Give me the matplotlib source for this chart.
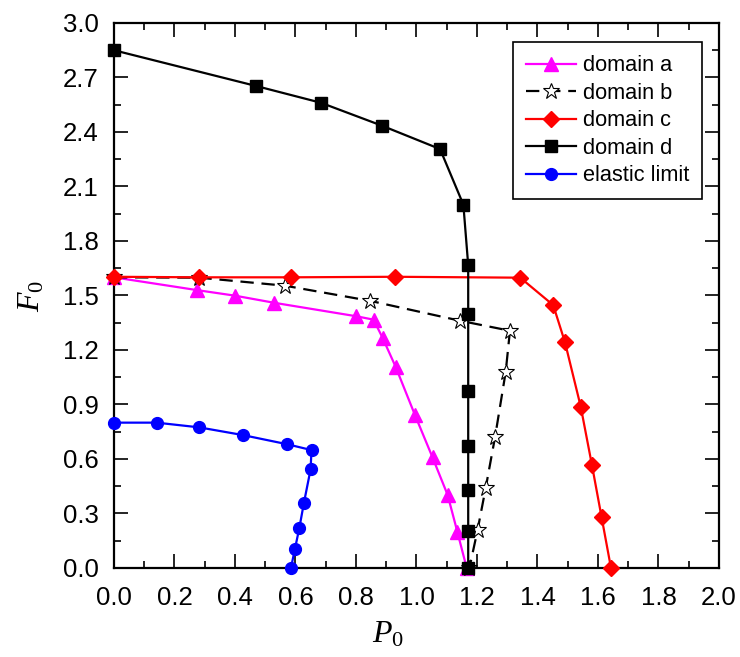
import matplotlib
matplotlib.use("Agg")
import matplotlib.pyplot as plt
from matplotlib.ticker import MultipleLocator, FormatStrFormatter

plt.rcParams['font.family'] = ['Liberation Sans', 'DejaVu Sans']
plt.rcParams['mathtext.fontset'] = 'custom'
plt.rcParams['mathtext.rm'] = 'Liberation Serif'
plt.rcParams['mathtext.it'] = 'Liberation Serif:italic'

# domain a
a_p = [0.0, 0.273, 0.400, 0.529, 0.800, 0.858, 0.888, 0.931, 0.995, 1.053, 1.103, 1.135, 1.166]
a_f = [1.600, 1.530, 1.499, 1.460, 1.386, 1.367, 1.267, 1.108, 0.842, 0.609, 0.402, 0.200, 0.0]

# domain b
b_p = [0.0, 0.282, 0.565, 0.848, 1.144, 1.309, 1.295, 1.260, 1.229, 1.202, 1.175]
b_f = [1.600, 1.598, 1.554, 1.470, 1.361, 1.306, 1.080, 0.723, 0.442, 0.209, 0.0]

# domain c
c_p = [0.0, 0.282, 0.585, 0.930, 1.343, 1.452, 1.491, 1.543, 1.580, 1.612, 1.643]
c_f = [1.603, 1.600, 1.600, 1.603, 1.598, 1.447, 1.242, 0.888, 0.567, 0.279, 0.0]

# domain d
d_p = [0.0, 0.468, 0.684, 0.887, 1.078, 1.155, 1.171, 1.171, 1.171, 1.171, 1.171, 1.171, 1.171]
d_f = [2.850, 2.654, 2.561, 2.434, 2.306, 2.000, 1.667, 1.396, 0.976, 0.673, 0.429, 0.205, 0.0]

# elastic limit
e_p = [0.0, 0.141, 0.282, 0.425, 0.573, 0.653, 0.650, 0.628, 0.613, 0.598, 0.585]
e_f = [0.800, 0.800, 0.774, 0.732, 0.681, 0.649, 0.543, 0.359, 0.222, 0.103, 0.0]

fig = plt.figure(figsize=(7.4, 6.57), dpi=100)
ax = fig.add_axes([0.154, 0.1355, 0.8176, 0.8295])

lw = 1.6
ax.plot(a_p, a_f, color='#ff00ff', lw=lw, marker='^', ms=10, label='domain a', clip_on=False, zorder=3)
ax.plot(b_p, b_f, color='black', lw=lw, ls=(0, (6, 3.5)), marker='*', ms=12,
        mfc='white', mec='black', mew=0.8, label='domain b', clip_on=False, zorder=3)
ax.plot(c_p, c_f, color='#ff0000', lw=lw, marker='D', ms=8.5, label='domain c', clip_on=False, zorder=4)
ax.plot(d_p, d_f, color='black', lw=lw, marker='s', ms=8, label='domain d', clip_on=False, zorder=5)
ax.plot(e_p, e_f, color='#0000ff', lw=lw, marker='o', ms=8.5, label='elastic limit', clip_on=False, zorder=5)

ax.set_xlim(0, 2.0)
ax.set_ylim(0, 3.0)
ax.xaxis.set_major_locator(MultipleLocator(0.2))
ax.xaxis.set_minor_locator(MultipleLocator(0.1))
ax.yaxis.set_major_locator(MultipleLocator(0.3))
ax.yaxis.set_minor_locator(MultipleLocator(0.15))
ax.xaxis.set_major_formatter(FormatStrFormatter('%.1f'))
ax.yaxis.set_major_formatter(FormatStrFormatter('%.1f'))

ax.tick_params(which='both', direction='in', top=True, right=True, width=1.2)
ax.tick_params(which='major', length=10, labelsize=18.5)
ax.tick_params(axis='x', which='major', pad=13)
ax.tick_params(axis='y', which='major', pad=11)
ax.tick_params(which='minor', length=5)
for s in ax.spines.values():
    s.set_linewidth(1.6)

ax.set_xlabel('$P_0$', fontsize=23, labelpad=4)
ax.xaxis.set_label_coords(0.453, -0.095)
ax.set_ylabel('$F_0$', fontsize=23, labelpad=12)

leg = ax.legend(loc='upper right', bbox_to_anchor=(0.972, 0.965), borderaxespad=0,
                fontsize=15.7, frameon=True, fancybox=False, edgecolor='black',
                handlelength=2.3, handletextpad=0.3, labelspacing=0.3,
                borderpad=0.6, framealpha=1)
leg.get_frame().set_linewidth(1.2)

fig.savefig('out.png', dpi=100)
